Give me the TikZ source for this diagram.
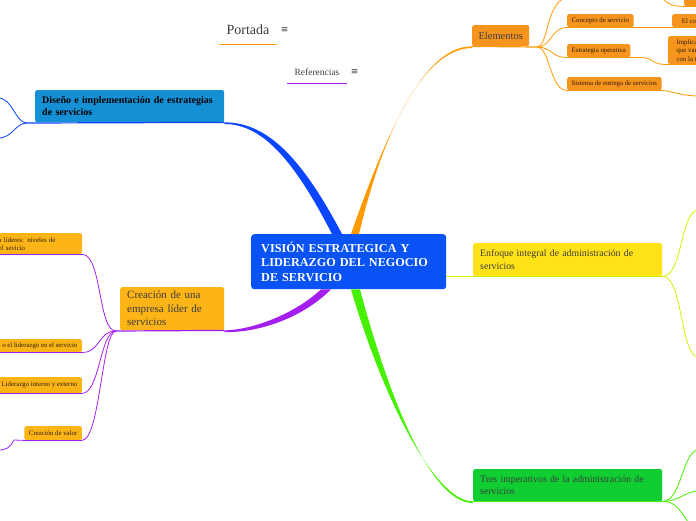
\documentclass[tikz,border=0pt]{standalone}
\usepackage{fontspec}
\setmainfont{Liberation Serif}
\newfontfamily\symfont{DejaVu Sans}
\usetikzlibrary{positioning,calc}
\definecolor{mainblue}{RGB}{8,82,246}
\definecolor{brblue}{RGB}{10,70,255}
\definecolor{disblue}{RGB}{22,144,212}
\definecolor{brorange}{RGB}{255,153,0}
\definecolor{boxorange}{RGB}{246,148,30}
\definecolor{brpurple}{RGB}{165,30,240}
\definecolor{boxamber}{RGB}{252,180,22}
\definecolor{boxyellow}{RGB}{255,226,24}
\definecolor{bryellow}{RGB}{212,240,0}
\definecolor{boxgreen}{RGB}{16,206,50}
\definecolor{brgreen}{RGB}{70,240,0}
\definecolor{txtgray}{RGB}{60,60,60}
\definecolor{leaftxt}{RGB}{45,30,10}

\begin{document}
\begin{tikzpicture}[x=1pt,y=-1pt,
  mainbox/.style={rectangle, rounded corners=3, fill=mainblue, text=white,
                  font=\fontsize{12.2}{14.5}\selectfont\bfseries, align=left,
                  inner xsep=10, inner ysep=0, anchor=north west},
  topic/.style={rectangle, rounded corners=2, text=txtgray,
                font=\fontsize{9.8}{12.5}\selectfont, align=left,
                inner xsep=7, inner ysep=0, anchor=north west},
  leaf/.style={rectangle, rounded corners=1.5, text=leaftxt,
               font=\fontsize{6.8}{8}\selectfont, align=left,
               inner xsep=4.5, inner ysep=0, minimum height=13},
  twig/.style={line width=0.8},
  uline/.style={line width=1.2},
  hdr/.style={text=txtgray, inner ysep=0},
  menu/.style={font=\symfont\fontsize{9}{9}\selectfont, text=txtgray, inner sep=1},
]
\useasboundingbox (0,0) rectangle (696,520);
\clip (0,0) rectangle (696,520);

% title links
\node[hdr, font=\fontsize{14}{16}\selectfont, inner xsep=7, minimum height=28] (portada) at (248,30) {Portada};
\draw[brorange, uline] (portada.south west) -- (portada.south east);
\node[menu, right=3 of portada] (menuA) {≡};
\node[hdr, font=\fontsize{9.5}{11}\selectfont, inner xsep=7, minimum height=22] (refs) at (317,72) {Referencias};
\draw[brpurple, uline] (refs.south west) -- (refs.south east);
\node[menu, right=3 of refs] (menuB) {≡};

% central topic
\node[mainbox, minimum width=195, minimum height=55, text width=175] (vision) at (251,234)
  {VISIÓN ESTRATEGICA Y\\LIDERAZGO DEL NEGOCIO\\DE SERVICIO};

% main topics
\node[topic, fill=disblue, text=black, font=\fontsize{10}{12}\selectfont\bfseries,
      minimum width=189, minimum height=32, text width=175] (diseno) at (35,90)
  {Diseño e implementación de estrategias\\de servicios};
\node[topic, fill=boxorange, align=center, inner xsep=4, font=\fontsize{10.5}{13}\selectfont,
      minimum width=57, minimum height=21] (elementos) at (472,25) {Elementos};
\node[topic, fill=boxyellow, minimum width=189, minimum height=33, text width=175] (enfoque) at (473,243)
  {Enfoque integral de administración de\\servicios};
\node[topic, fill=boxgreen, minimum width=189, minimum height=32, text width=175] (tres) at (473,469)
  {Tres imperativos de la administración de\\servicios};
\node[topic, fill=boxamber, font=\fontsize{11}{13.5}\selectfont,
      minimum width=104, minimum height=43, text width=90] (creacion) at (120,287)
  {Creación de una\\empresa líder de\\servicios};

% tapered main branches
\fill[brblue] ($(vision.north west)+(91,0)$) .. controls (303,160) and (268,122) .. ($(diseno.south east)+(0,0)$)
  -- ($(diseno.south east)+(0,1.6)$) .. controls (264,124) and (296,164) .. ($(vision.north west)+(81,0)$) -- cycle;
\fill[brorange] ($(vision.north west)+(100,0)$) .. controls (394,110) and (430,46) .. (elementos.south west)
  -- ($(elementos.south west)+(0,1.6)$) .. controls (430,48.5) and (388,112) .. ($(vision.north west)+(108,0)$) -- cycle;
\fill[brgreen] ($(vision.south west)+(100,0)$) .. controls (381,392) and (433,501) .. (tres.south west)
  -- ($(tres.south west)+(0,1.6)$) .. controls (429,503) and (387,390) .. ($(vision.south west)+(109,0)$) -- cycle;
\fill[brpurple] ($(vision.south west)+(70,0)$) .. controls (292,316) and (250,330) .. (creacion.south east)
  -- ($(creacion.south east)+(0,1.6)$) .. controls (252,333) and (298,322) .. ($(vision.south west)+(80,0)$) -- cycle;
\draw[bryellow, line width=1.6] (vision.east |- enfoque.south) -- (enfoque.south east);

% junctions
\coordinate (djun) at (27,123);
\coordinate (ejun) at (537,47);
\coordinate (cjun) at (116,331);

% underlines of main topics
\draw[brblue, uline] (djun) -- (diseno.south east);
\draw[brorange, uline] (elementos.south west) -- (ejun);
\draw[brpurple, uline] (cjun) -- (creacion.south east);
\draw[brgreen, uline] (tres.south west) -- (tres.south east);

% Elementos leaves
\node[leaf, fill=boxorange, anchor=north west] (concepto) at (567,14) {Concepto de servicio};
\node[leaf, fill=boxorange, anchor=north west] (estrategia) at (567,44) {Estrategia operativa};
\node[leaf, fill=boxorange, anchor=north west] (sistema) at (567,77) {Sistema de entrega de servicios};
\node[leaf, fill=boxorange, anchor=north west, minimum width=40] (elconc) at (672,14) {El conc};
\node[leaf, fill=boxorange, anchor=north west, minimum width=40, minimum height=28,
      font=\fontsize{6.8}{8.5}\selectfont] (implica) at (668,36) {Implica\\que van\\con la te};
\node[leaf, fill=boxorange, anchor=north west, minimum width=30, minimum height=16] (topr) at (684,-10) {};

\draw[brorange, twig] (ejun) .. controls (549,45) and (545,6) .. (566,-3);
\draw[brorange, twig] (ejun) .. controls (552,47) and (550,28) .. (concepto.south west) -- (elconc.south east);
\draw[brorange, twig] (ejun) .. controls (552,47) and (552,58) .. (estrategia.south west)
  -- ($(estrategia.south east)+(12,0)$) .. controls (655,59) and (652,65) .. (implica.south west) -- (implica.south east);
\draw[brorange, twig] (ejun) .. controls (550,47) and (550,91) .. (sistema.south west) -- (sistema.south east)
  .. controls (672,91) and (680,96) .. (700,96);
\draw[brorange, twig] (663,-2) .. controls (668,6) and (675,6) .. (topr.south west) -- (topr.south east);

% Diseno leaves
\draw[brblue, twig] (djun) .. controls (15,123) and (13,98) .. (-2,98);
\draw[brblue, twig] (djun) .. controls (15,123) and (13,138) .. (-2,138);

% Creacion leaves
\node[leaf, fill=boxamber, anchor=north west, minimum width=88, minimum height=21, text width=79] (lider) at (-6,233)
  {a líderes: niveles de\\el sevicio};
\node[leaf, fill=boxamber, anchor=north east] (liderazgo) at (82,339) {o el liderazgo en el servicio};
\node[leaf, fill=boxamber, anchor=north east, minimum height=16] (interno) at (82,377) {Liderazgo interno y externo};
\node[leaf, fill=boxamber, anchor=north east, minimum height=14] (valor) at (82,426) {Creación de valor};

\draw[brpurple, twig] (cjun) .. controls (98,331) and (102,255) .. (lider.south east) -- (lider.south west);
\draw[brpurple, twig] (cjun) .. controls (98,331) and (100,353) .. (liderazgo.south east) -- (liderazgo.south west);
\draw[brpurple, twig] (cjun) .. controls (100,331) and (100,393) .. (interno.south east) -- (interno.south west);
\draw[brpurple, twig] (cjun) .. controls (102,331) and (100,440) .. (valor.south east) -- (valor.south west)
  -- (14,440) .. controls (10,448) and (6,450) .. (-2,450);

% Enfoque leaves
\draw[bryellow, twig] (enfoque.south east) .. controls (683,276) and (680,212) .. (698,210);
\draw[bryellow, twig] (enfoque.south east) .. controls (683,276) and (680,355) .. (698,357);

% Tres leaves
\draw[brgreen, twig] (tres.south east) .. controls (682,501) and (682,452) .. (698,450);
\draw[brgreen, twig] (tres.south east) .. controls (680,501) and (684,492) .. (698,491);
\draw[brgreen, twig] (tres.south east) .. controls (676,501) and (681,512) .. (688,522);
\end{tikzpicture}
\end{document}
